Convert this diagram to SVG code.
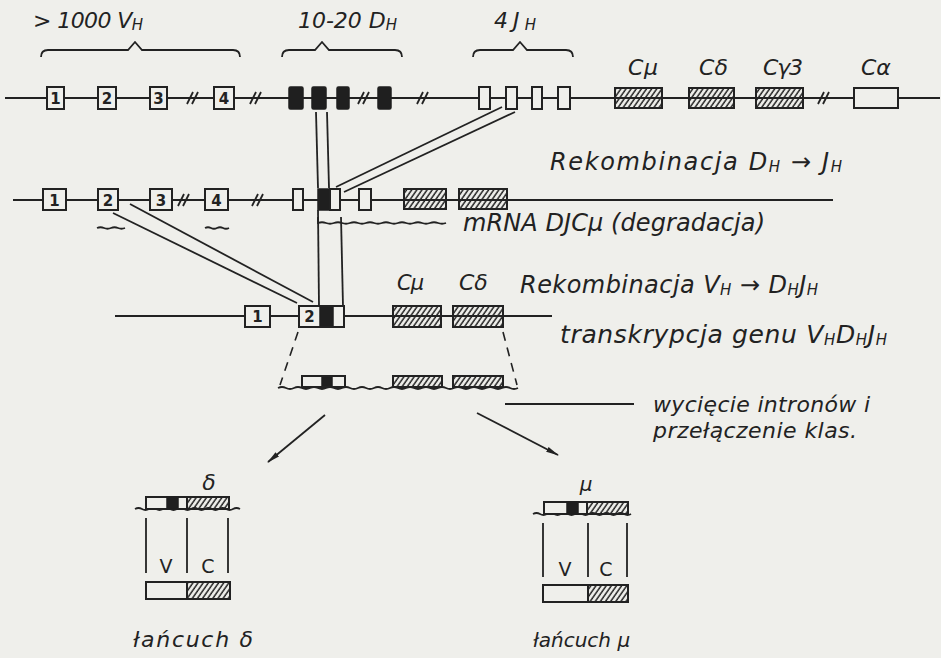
<svg xmlns="http://www.w3.org/2000/svg" width="941" height="658" viewBox="0 0 941 658">
<defs>
<pattern id="hatch" width="4.2" height="10" patternUnits="userSpaceOnUse" patternTransform="rotate(35)">
<line x1="1" y1="0" x2="1" y2="10" stroke="#222" stroke-width="1.5"/>
</pattern>
<marker id="ah" markerWidth="13" markerHeight="7" refX="12" refY="3.5" orient="auto" markerUnits="userSpaceOnUse">
<path d="M0,0.8 L13,3.5 L0,6.2 z" fill="#222"/>
</marker>
<style>
.ln{stroke:#222;stroke-width:1.8;fill:none}
.bx{fill:#efefeb;stroke:#222;stroke-width:2}
.bk{fill:#1f1f1f;stroke:#1f1f1f;stroke-width:1.5}
.ht{fill:url(#hatch);stroke:#222;stroke-width:2}
.t{font-family:"DejaVu Sans","Liberation Sans",sans-serif;font-style:italic;fill:#222}
.n{font-family:"DejaVu Sans","Liberation Sans",sans-serif;font-weight:bold;font-size:15px;fill:#222;text-anchor:middle}
.u{font-family:"DejaVu Sans","Liberation Sans",sans-serif;fill:#222}
.s{font-size:15px}
.dash{stroke:#222;stroke-width:1.6;fill:none;stroke-dasharray:9,7}
</style>
</defs>
<rect x="0" y="0" width="941" height="658" fill="#efefeb"/>

<!-- Row 1: germline -->
<g id="row1">
<line class="ln" x1="5" y1="98" x2="940" y2="98"/>
<path class="ln" d="M187,104 L193,92 M192,104 L198,92 M250,104 L256,92 M255,104 L261,92 M358,104 L364,92 M363,104 L369,92 M417,104 L423,92 M422,104 L428,92 M818,104 L824,92 M823,104 L829,92"/>
</g>
<g id="label-vh">
<path class="ln" d="M41,57 Q41,50 48,50 L128,50 L135,42 L142,50 L233,50 Q240,50 240,57"/>
<text class="t" x="33" y="28" font-size="22" textLength="110">&gt; 1000 V<tspan class="s" dy="2">H</tspan></text>
</g>
<g id="label-dh">
<path class="ln" d="M282,57 Q282,50 289,50 L315,50 L322,42 L329,50 L395,50 Q402,50 402,57"/>
<text class="t" x="298" y="28" font-size="22" textLength="99">10-20 D<tspan class="s" dy="2">H</tspan></text>
</g>
<g id="label-jh">
<path class="ln" d="M473,57 Q473,50 480,50 L513,50 L520,42 L527,50 L566,50 Q573,50 573,57"/>
<text class="t" x="494" y="28" font-size="22" textLength="42">4J<tspan class="s" dy="2">H</tspan></text>
</g>
<g id="v1-1"><rect class="bx" x="47" y="87" width="17" height="22"/><text class="n" x="55.5" y="104">1</text></g>
<g id="v1-2"><rect class="bx" x="98" y="87" width="18" height="22"/><text class="n" x="107" y="104">2</text></g>
<g id="v1-3"><rect class="bx" x="150" y="87" width="17" height="22"/><text class="n" x="158.5" y="104">3</text></g>
<g id="v1-4"><rect class="bx" x="214" y="87" width="20" height="22"/><text class="n" x="224" y="104">4</text></g>
<g id="d1-1"><rect class="bk" x="289" y="87" width="14" height="22" rx="1.5"/></g>
<g id="d1-2"><rect class="bk" x="312" y="87" width="14" height="22" rx="1.5"/></g>
<g id="d1-3"><rect class="bk" x="337" y="87" width="12" height="22" rx="1.5"/></g>
<g id="d1-4"><rect class="bk" x="378" y="87" width="13" height="22" rx="1.5"/></g>
<g id="j1-1"><rect class="bx" x="479" y="87" width="11" height="22"/></g>
<g id="j1-2"><rect class="bx" x="506" y="87" width="11" height="22"/></g>
<g id="j1-3"><rect class="bx" x="532" y="87" width="10" height="22"/></g>
<g id="j1-4"><rect class="bx" x="558" y="87" width="12" height="22"/></g>
<g id="cmu1"><rect class="ht" x="615" y="88" width="47" height="20"/><text class="t" x="628" y="75" font-size="22" textLength="30">Cμ</text></g>
<g id="cdelta1"><rect class="ht" x="689" y="88" width="45" height="20"/><text class="t" x="699" y="75" font-size="22" textLength="29">Cδ</text></g>
<g id="cgamma1"><rect class="ht" x="756" y="88" width="47" height="20"/><text class="t" x="763" y="75" font-size="22" textLength="40">Cγ3</text></g>
<g id="calpha1"><rect class="bx" x="854" y="88" width="44" height="20"/><text class="t" x="861" y="75" font-size="22">Cα</text></g>

<!-- Row 2: D-J recombination -->
<g id="row2">
<line class="ln" x1="13" y1="200" x2="833" y2="200"/>
<path class="ln" d="M178,206 L184,194 M183,206 L189,194 M252,206 L258,194 M257,206 L263,194"/>
<path class="ln" stroke-width="1.3" d="M97,228 q3.5,-1.5 7,0 t7,0 t7,0 t7,0"/>
<path class="ln" stroke-width="1.3" d="M205,228 q3,-1.5 6,0 t6,0 t6,0 t6,0"/>
</g>
<g id="v2-1"><rect class="bx" x="43" y="189" width="23" height="21"/><text class="n" x="54.5" y="205.5">1</text></g>
<g id="v2-2"><rect class="bx" x="98" y="189" width="20" height="21"/><text class="n" x="108" y="205.5">2</text></g>
<g id="v2-3"><rect class="bx" x="150" y="189" width="22" height="21"/><text class="n" x="161" y="205.5">3</text></g>
<g id="v2-4"><rect class="bx" x="205" y="189" width="23" height="21"/><text class="n" x="216.5" y="205.5">4</text></g>
<g id="d2-a"><rect class="bx" x="293" y="189" width="10" height="21"/></g>
<g id="dj2"><rect class="bk" x="318" y="189" width="12" height="21"/><rect class="bx" x="330" y="189" width="10" height="21"/></g>
<g id="j2-b"><rect class="bx" x="359" y="189" width="12" height="21"/></g>
<g id="c2-a"><rect class="ht" x="404" y="189" width="42" height="20"/></g>
<g id="c2-b"><rect class="ht" x="459" y="189" width="48" height="20"/></g>
<g id="label-dj">
<text class="t" x="550" y="170" font-size="24" textLength="292">Rekombinacja D<tspan class="s" dy="2">H</tspan><tspan dy="-2"> → J</tspan><tspan class="s" dy="2">H</tspan></text>
</g>
<g id="mrna-djc">
<path class="ln" stroke-width="1.3" d="M318,217 L318,223 q4,-1.5 8,0 t8,0 t8,0 t8,0 t8,0 t8,0 t8,0 t8,0 t8,0 t8,0 t8,0 t8,0 t8,0 t8,0 t8,0 t8,0"/>
<text class="t" x="463" y="231" font-size="24" textLength="302">mRNA DJCμ (degradacja)</text>
</g>

<!-- Row 3: V-DJ recombination -->
<g id="row3">
<line class="ln" x1="115" y1="316" x2="552" y2="316"/>
</g>
<g id="v3-1"><rect class="bx" x="245" y="306" width="25" height="21"/><text class="n" x="257.5" y="322">1</text></g>
<g id="vdj3"><rect class="bx" x="299" y="306" width="45" height="21"/><rect class="bk" x="320" y="306" width="13" height="21"/><rect x="299" y="306" width="45" height="21" fill="none" stroke="#222" stroke-width="2"/><text class="n" x="309.5" y="322">2</text></g>
<g id="cmu3"><rect class="ht" x="393" y="306" width="48" height="21"/><text class="t" x="397" y="290" font-size="21" textLength="27">Cμ</text></g>
<g id="cdelta3"><rect class="ht" x="453" y="306" width="50" height="21"/><text class="t" x="459" y="290" font-size="22">Cδ</text></g>
<g id="label-vdj">
<text class="t" x="520" y="293" font-size="24" textLength="298">Rekombinacja V<tspan class="s" dy="2">H</tspan><tspan dy="-2"> → D</tspan><tspan class="s" dy="2">H</tspan><tspan dy="-2">J</tspan><tspan class="s" dy="2">H</tspan></text>
</g>

<!-- Row 4: primary transcript -->
<g id="row4">
<path class="ln" stroke-width="1.4" d="M278,388 q4,-2 8,0 t8,0 t8,0 t8,0 t8,0 t8,0 t8,0 t8,0 t8,0 t8,0 t8,0 t8,0 t8,0 t8,0 t8,0 t8,0 t8,0 t8,0 t8,0 t8,0 t8,0 t8,0 t8,0 t8,0 t8,0 t8,0 t8,0 t8,0 t8,0 t8,0"/>
<rect class="bx" x="302" y="376" width="43" height="11"/>
<rect class="bk" x="322" y="376" width="10" height="11"/>
<rect x="302" y="376" width="43" height="11" fill="none" stroke="#222" stroke-width="2"/>
<rect class="ht" x="393" y="376" width="49" height="11"/>
<rect class="ht" x="453" y="376" width="50" height="11"/>
</g>
<g id="label-tr">
<text class="t" x="560" y="343" font-size="25" textLength="327">transkrypcja genu V<tspan class="s" dy="2">H</tspan><tspan dy="-2">D</tspan><tspan class="s" dy="2">H</tspan><tspan dy="-2">J</tspan><tspan class="s" dy="2">H</tspan></text>
</g>
<g id="label-splice">
<line class="ln" x1="505" y1="404" x2="634" y2="404"/>
<text class="t" x="653" y="412" font-size="22" textLength="217">wycięcie intronów i</text>
<text class="t" x="653" y="438" font-size="22" textLength="204">przełączenie klas.</text>
</g>

<!-- Delta chain -->
<g id="chain-delta">
<text class="t" x="209" y="490" font-size="22" text-anchor="middle">δ</text>
<path class="ln" stroke-width="1.3" d="M135,509 q3.5,-2 7,0 t7,0 t7,0 t7,0 t7,0 t7,0 t7,0 t7,0 t7,0 t7,0 t7,0 t7,0 t7,0 t7,0 t7,0"/>
<rect class="bx" x="146" y="497" width="41" height="12"/>
<rect class="bk" x="167" y="497" width="11" height="12"/>
<rect class="ht" x="187" y="497" width="42" height="12"/>
<line class="ln" x1="146" y1="518" x2="146" y2="573"/>
<line class="ln" x1="187" y1="518" x2="187" y2="573"/>
<line class="ln" x1="228" y1="518" x2="228" y2="573"/>
<text class="u" x="166" y="573" font-size="19" text-anchor="middle">V</text>
<text class="u" x="208" y="573" font-size="19" text-anchor="middle">C</text>
<rect class="bx" x="146" y="582" width="41" height="17"/>
<rect class="ht" x="187" y="582" width="43" height="17"/>
<text class="t" x="133" y="647" font-size="22" textLength="120">łańcuch δ</text>
</g>

<!-- Mu chain -->
<g id="chain-mu">
<text class="t" x="586" y="491" font-size="20" text-anchor="middle">μ</text>
<path class="ln" stroke-width="1.3" d="M533,514 q3.5,-2 7,0 t7,0 t7,0 t7,0 t7,0 t7,0 t7,0 t7,0 t7,0 t7,0 t7,0 t7,0 t7,0 t7,0"/>
<rect class="bx" x="544" y="502" width="43" height="12"/>
<rect class="bk" x="567" y="502" width="11" height="12"/>
<rect class="ht" x="587" y="502" width="41" height="12"/>
<line class="ln" x1="543" y1="523" x2="543" y2="577"/>
<line class="ln" x1="588" y1="523" x2="588" y2="577"/>
<line class="ln" x1="627" y1="523" x2="627" y2="577"/>
<text class="u" x="565" y="576" font-size="19" text-anchor="middle">V</text>
<text class="u" x="606" y="576" font-size="19" text-anchor="middle">C</text>
<rect class="bx" x="543" y="585" width="45" height="17"/>
<rect class="ht" x="588" y="585" width="40" height="17"/>
<text class="t" x="533" y="647" font-size="20">łańcuch μ</text>
</g>

<!-- Connectors -->
<g id="connectors">
<line class="ln" stroke-width="1.5" x1="316" y1="112" x2="318" y2="188"/>
<line class="ln" stroke-width="1.5" x1="327" y1="112" x2="329" y2="188"/>
<line class="ln" stroke-width="1.5" x1="502" y1="107" x2="336" y2="187"/>
<line class="ln" stroke-width="1.5" x1="515" y1="112" x2="344" y2="192"/>
<line class="ln" stroke-width="1.5" x1="130" y1="204" x2="313" y2="302"/>
<line class="ln" stroke-width="1.5" x1="113" y1="213" x2="297" y2="303"/>
<line class="ln" stroke-width="1.5" x1="318" y1="210" x2="319" y2="306"/>
<line class="ln" stroke-width="1.5" x1="341" y1="217" x2="343" y2="306"/>
<line class="dash" x1="298" y1="332" x2="280" y2="385"/>
<line class="dash" x1="503" y1="332" x2="517" y2="385"/>
<line class="ln" x1="325" y1="415" x2="268" y2="462" marker-end="url(#ah)"/>
<line class="ln" x1="477" y1="413" x2="558" y2="455" marker-end="url(#ah)"/>
</g>
</svg>
